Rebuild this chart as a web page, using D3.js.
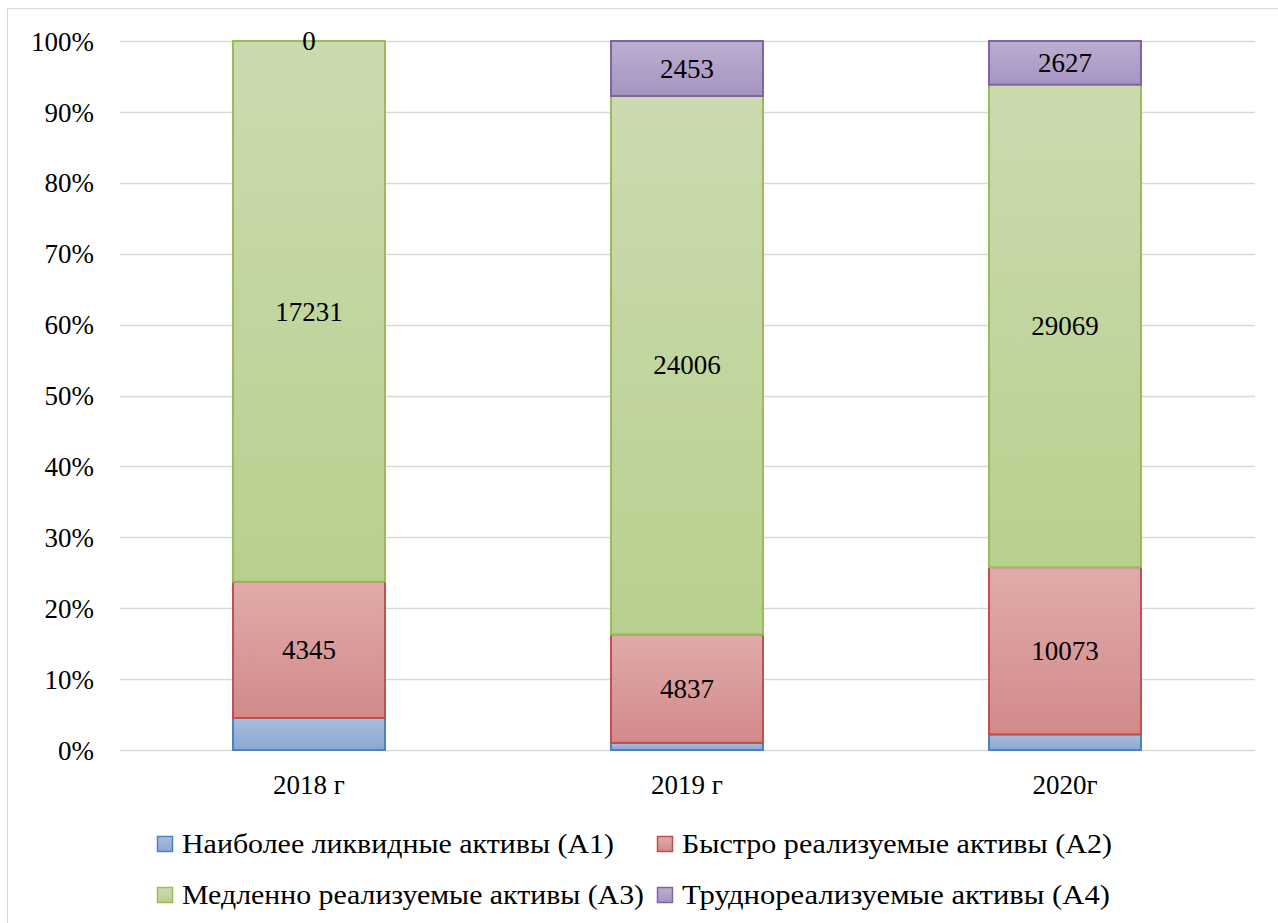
<!DOCTYPE html>
<html><head><meta charset="utf-8">
<script src="https://cdn.jsdelivr.net/npm/d3@7/dist/d3.min.js"></script>
<style>text{font-family:Tinos,"Times New Roman","Liberation Serif",serif}</style>
</head><body style="margin:0"><svg id="c" width="1278" height="923"></svg>
<script>
const categories = ["2018 г", "2019 г", "2020г"];
const seriesNames = ["Наиболее ликвидные активы (А1)", "Быстро реализуемые активы (А2)", "Медленно реализуемые активы (А3)", "Труднореализуемые активы (А4)"];
const a1 = [1020, 320, 940];
const a2 = [4345, 4837, 10073];
const a3 = [17231, 24006, 29069];
const a4 = [0, 2453, 2627];
const showLabel = [false, true, true, true];
const yTicks = [0, 0.1, 0.2, 0.3, 0.4, 0.5, 0.6, 0.7, 0.8, 0.9, 1.0];
const strokes = ["#4f81bd", "#c0504d", "#9bbb59", "#8064a2"];
const fillTop = ["#a9bedd", "#e0acab", "#cbdbb0", "#bcaed1"];
const fillBot = ["#8ba7d3", "#d3898a", "#b8d08e", "#a594c2"];
const FS = 27;
const STACK = "Tinos, 'Times New Roman', 'Liberation Serif', serif";

const svg = d3.select("#c");
function txt(sel){ return sel.style("font-family",STACK).attr("font-size",FS).attr("fill","#000"); }

svg.append("rect").attr("x",0).attr("y",0).attr("width",1278).attr("height",923).attr("fill","#fff");
svg.append("rect").attr("x",7.5).attr("y",8.5).attr("width",1290).attr("height",930).attr("fill","none").attr("stroke","#d9d9d9").attr("stroke-width",1);

const defs = svg.append("defs");
strokes.forEach((s,i)=>{
  const g = defs.append("linearGradient").attr("id","g"+i).attr("x1",0).attr("y1",0).attr("x2",0).attr("y2",1);
  g.append("stop").attr("offset","0%").attr("stop-color",fillTop[i]);
  g.append("stop").attr("offset","100%").attr("stop-color",fillBot[i]);
});

const rows = categories.map((c,i)=>({cat:c, s0:a1[i], s1:a2[i], s2:a3[i], s3:a4[i]}));
const stack = d3.stack().keys(["s0","s1","s2","s3"]).offset(d3.stackOffsetExpand);
const series = stack(rows);

const x = d3.scaleBand().domain(categories).range([120,1254]).paddingInner(0.598).paddingOuter(0.299);
const y = d3.scaleLinear().domain([0,1]).range([750,41]);

svg.append("g").selectAll("line").data(yTicks).join("line")
  .attr("x1",120).attr("x2",1255).attr("y1",d=>Math.round(y(d))+0.5).attr("y2",d=>Math.round(y(d))+0.5)
  .attr("stroke","#d9d9d9").attr("stroke-width",1.5);

const yAxis = d3.axisLeft(y).tickValues(yTicks).tickFormat(d=>Math.round(d*100)+"%").tickSize(0).tickPadding(0);
const ya = svg.append("g").attr("transform","translate(94,0)").call(yAxis);
ya.attr("font-family",null).attr("font-size",null);
ya.select(".domain").remove();
txt(ya.selectAll("text").attr("dy","0.34em"));

const xAxis = d3.axisBottom(x).tickSize(0).tickPadding(0);
const xa = svg.append("g").attr("transform","translate(0,775)").call(xAxis);
xa.attr("font-family",null).attr("font-size",null);
xa.select(".domain").remove();
txt(xa.selectAll("text").attr("dy","0.71em"));

series.forEach((s,si)=>{
  svg.append("g").selectAll("rect").data(s).join("rect")
    .attr("x",d=>x(d.data.cat)).attr("width",x.bandwidth())
    .attr("y",d=>y(d[1])).attr("height",d=>Math.max(0,y(d[0])-y(d[1])))
    .attr("fill","url(#g"+si+")").attr("stroke",strokes[si]).attr("stroke-width",2)
    .attr("display",d=>(y(d[0])-y(d[1]))>0.01?null:"none");
});
series.forEach((s,si)=>{
  if(!showLabel[si]) return;
  txt(svg.append("g").selectAll("text").data(s).join("text")
    .attr("x",d=>x(d.data.cat)+x.bandwidth()/2)
    .attr("y",d=>(y(d[0])+y(d[1]))/2)
    .attr("dy","0.34em").attr("text-anchor","middle")
    .text(d=>d.data["s"+si]));
});

const legendPos = [[157,844],[657,844],[157,895],[657,895]];
const legendTextW = [432, 430, 462, 428];
seriesNames.forEach((n,i)=>{
  const [lx,ly] = legendPos[i];
  svg.append("rect").attr("x",lx+0.5).attr("y",ly-7.5).attr("width",15).attr("height",15)
    .attr("fill","url(#g"+i+")").attr("stroke",strokes[i]).attr("stroke-width",1.5);
  txt(svg.append("text").attr("x",lx+25).attr("y",ly).attr("dy","0.34em")
    .attr("textLength",legendTextW[i]).attr("lengthAdjust","spacingAndGlyphs").text(n));
});
</script></body></html>
